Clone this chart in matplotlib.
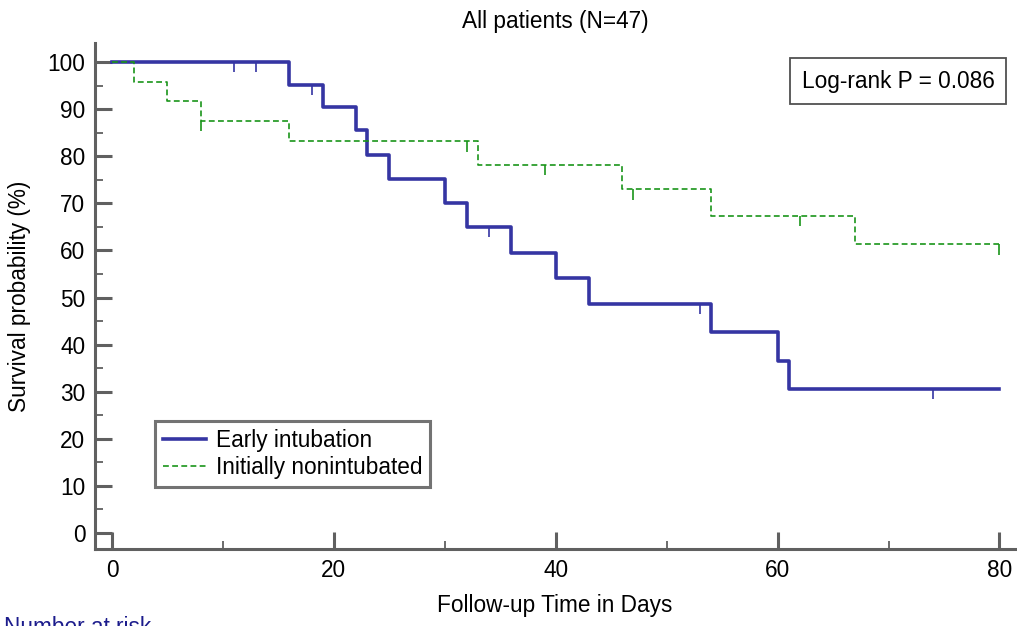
import matplotlib.pyplot as plt
import numpy as np

plt.rcParams['font.family'] = ['Liberation Sans', 'DejaVu Sans']

# Kaplan-Meier data (time in days, survival in %)
early_t = [0, 16, 19, 22, 23, 25, 30, 32, 36, 40, 43, 54, 60, 61, 80]
early_s = [100, 95.2, 90.4, 85.5, 80.2, 75.2, 70.0, 65.0, 59.5, 54.2, 48.6, 42.6, 36.6, 30.6, 30.6]
early_cens = [11, 13, 18, 34, 53, 74]

non_t = [0, 2, 5, 8, 16, 33, 46, 54, 67, 80]
non_s = [100, 95.8, 91.7, 87.5, 83.2, 78.2, 73.0, 67.3, 61.3, 61.3]
non_cens = [8, 32, 39, 47, 62, 80]

blue = '#3535a3'
green = '#1a951a'
gray = '#606060'
fs = 16.3


def surv_at(t, times, surv):
    # survival value right after time t (step function)
    idx = np.searchsorted(times, t, side='right') - 1
    return np.array(surv)[idx]


fig = plt.figure(figsize=(10.17, 6.26), dpi=100)
ax = fig.add_axes([0.0934, 0.123, 0.9046, 0.808])

c1, = ax.step(early_t, early_s, where='post', color=blue, lw=2.6, label='Early intubation')
c2, = ax.step(non_t, non_s, where='post', color=green, lw=1.2, ls=(0, (3.5, 2)),
              label='Initially nonintubated')

# censor marks
ye = surv_at(early_cens, early_t, early_s)
ax.vlines(early_cens, ye - 2.2, ye, color=blue, lw=1.2)
yn = surv_at(non_cens, non_t, non_s)
ax.vlines(non_cens, yn - 2.2, yn, color=green, lw=1.2)

ax.set_xlim(-1.53, 81.4)
ax.set_ylim(-3.4, 104)
ax.set_xticks(np.arange(0, 81, 20))
ax.set_xticks(np.arange(10, 81, 20), minor=True)
ax.set_yticks(np.arange(0, 101, 10))
ax.set_yticks(np.arange(5, 101, 10), minor=True)

for s in ['top', 'right']:
    ax.spines[s].set_visible(False)
for s in ['left', 'bottom']:
    ax.spines[s].set_color(gray)
    ax.spines[s].set_linewidth(2.2)

ax.tick_params(which='major', direction='in', length=12, width=2.2, color=gray,
               labelsize=fs, pad=7)
ax.tick_params(which='minor', direction='in', length=6, width=1.3, color=gray)

ax.set_xlabel('Follow-up Time in Days', fontsize=fs, labelpad=9)
ax.set_ylabel('Survival probability (%)', fontsize=fs, labelpad=12)
ax.set_title('All patients (N=47)', fontsize=fs, pad=11)

leg = ax.legend(handles=[c1, c2], loc='lower left', bbox_to_anchor=(0.065, 0.1225),
                fontsize=fs, frameon=True, fancybox=False, handlelength=1.9,
                borderpad=0.35, labelspacing=0.2, handletextpad=0.45,
                borderaxespad=0)
leg.get_frame().set_edgecolor('#505050')
leg.get_frame().set_linewidth(2.2)

ax.text(0.873, 0.925, 'Log-rank P = 0.086', transform=ax.transAxes, fontsize=fs,
        ha='center', va='center',
        bbox=dict(boxstyle='square,pad=0.5', fc='white', ec='#505050', lw=1.3))

fig.text(0.004, -0.013, 'Number at risk', color='#1c1c8c', fontsize=fs, va='baseline')

fig.savefig('out.png', dpi=100)
